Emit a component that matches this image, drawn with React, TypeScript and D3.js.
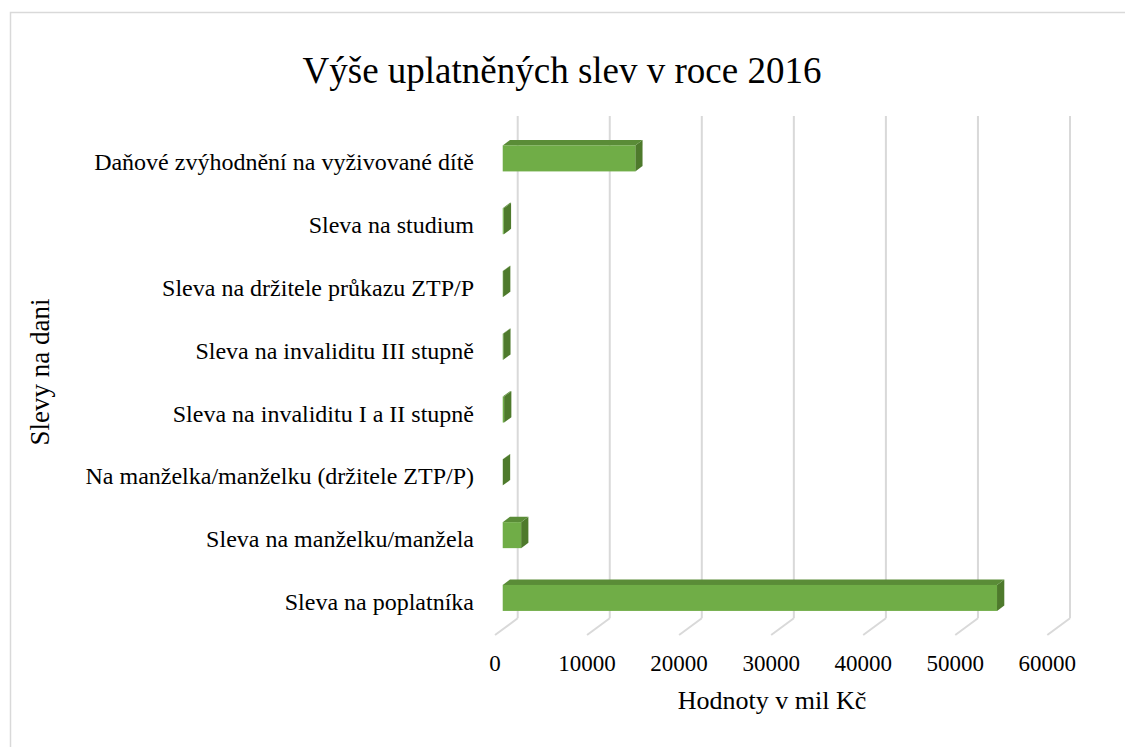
import React from "react";
import * as d3 from "d3";

const categories = [
  "Sleva na poplatníka",
  "Sleva na manželku/manžela",
  "Na manželka/manželku (držitele ZTP/P)",
  "Sleva na invaliditu I a II stupně",
  "Sleva na invaliditu III stupně",
  "Sleva na držitele průkazu ZTP/P",
  "Sleva na studium",
  "Daňové zvýhodnění na vyživované dítě",
];
const values = [53700, 2000, 20, 150, 60, 40, 120, 14400];
const xTicks = [0, 10000, 20000, 30000, 40000, 50000, 60000];
const title = "Výše uplatněných slev v roce 2016";
const xTitle = "Hodnoty v mil Kč";
const yTitle = "Slevy na dani";

const W = 1125;
const H = 747;
const FONT = "Liberation Serif, Tinos, Times New Roman, DejaVu Serif, serif";

export default function App() {
  const backLeft = 517.7;
  const backRight = 1070;
  const floorY = 618.3;
  const wallTop = 116;
  const DX = -22.7;
  const DY = 16.7;
  const fFront = 0.66;
  const fBack = 0.34;

  const x = d3.scaleLinear().domain([0, 60000]).range([backLeft, backRight]);
  const y = d3
    .scaleBand<string>()
    .domain(categories)
    .range([floorY, wallTop])
    .paddingInner(0.586)
    .paddingOuter(0.293);

  const pts = (arr: [number, number][]) => arr.map((p) => p.join(",")).join(" ");

  return (
    <svg
      width={W}
      height={H}
      style={{ position: "absolute", left: 0, top: 0, background: "#fff", fontFamily: FONT }}
    >
      <rect x={10.5} y={12.5} width={1200} height={800} fill="#fff" stroke="#d9d9d9" strokeWidth={1.5} />
      <text x={562} y={70} textAnchor="middle" dominantBaseline="central" style={{ fontFamily: FONT }} fontSize={37} fill="#000">
        {title}
      </text>
      {xTicks.map((t) => (
        <g key={t}>
          <line x1={x(t)} x2={x(t)} y1={wallTop} y2={floorY} stroke="#d9d9d9" strokeWidth={2} />
          <line x1={x(t)} x2={x(t) + DX} y1={floorY} y2={floorY + DY} stroke="#d9d9d9" strokeWidth={2} />
          <text x={x(t) + DX} y={663} textAnchor="middle" dominantBaseline="central" style={{ fontFamily: FONT }} fontSize={23} fill="#000">
            {t}
          </text>
        </g>
      ))}
      {categories.map((c, i) => {
        const v = values[i];
        const top = y(c)!;
        const bw = y.bandwidth();
        const fx0 = x(0) + fFront * DX;
        const fx1 = x(v) + fFront * DX;
        const fy0 = top + fFront * DY;
        const fy1 = top + bw + fFront * DY;
        const bx0 = x(0) + fBack * DX;
        const bx1 = x(v) + fBack * DX;
        const by0 = top + fBack * DY;
        const by1 = top + bw + fBack * DY;
        return (
          <g key={c}>
            <polygon points={pts([[fx1, fy0], [bx1, by0], [bx1, by1], [fx1, fy1]])} fill="#4e7a2c" />
            <polygon points={pts([[fx0, fy0], [bx0, by0], [bx1, by0], [fx1, fy0]])} fill="#5a8c37" />
            <rect x={fx0} y={fy0} width={Math.max(0, fx1 - fx0)} height={bw} fill="#70ad47" />
            <text x={474} y={(fy0 + fy1) / 2 + 4} textAnchor="end" dominantBaseline="central" style={{ fontFamily: FONT }} fontSize={24} fill="#000">
              {c}
            </text>
          </g>
        );
      })}
      <text x={772} y={700} textAnchor="middle" dominantBaseline="central" style={{ fontFamily: FONT }} fontSize={26} fill="#000">
        {xTitle}
      </text>
      <text
        transform={`translate(40, 372) rotate(-90)`}
        textAnchor="middle"
        dominantBaseline="central"
        style={{ fontFamily: FONT }}
        fontSize={27}
        fill="#000"
      >
        {yTitle}
      </text>
    </svg>
  );
}
